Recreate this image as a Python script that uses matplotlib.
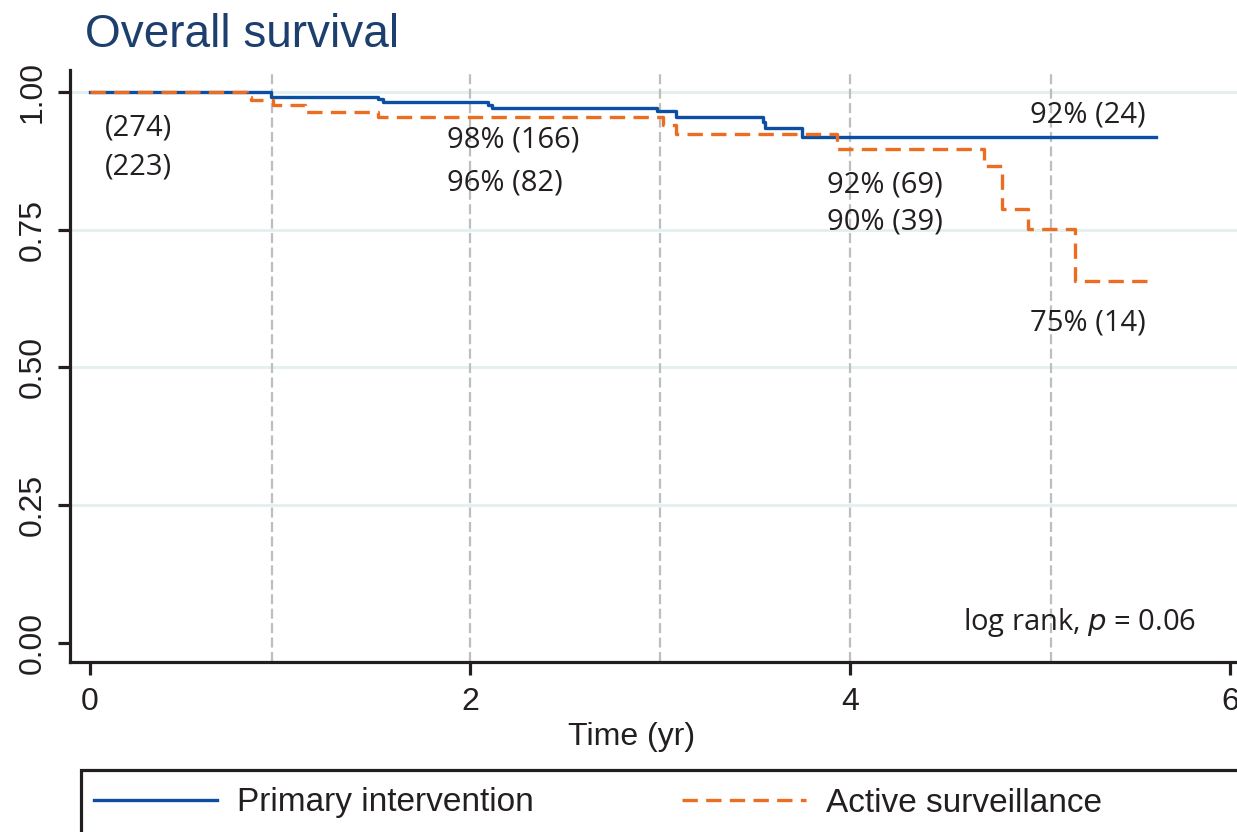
import matplotlib
matplotlib.use("Agg")
import matplotlib.pyplot as plt
from matplotlib.patches import Rectangle

# ---- data ----
pi_time = [0, 0.953, 1.516, 1.542, 2.095, 2.116, 2.984, 3.084, 3.542, 3.553, 3.747, 5.61]
pi_surv = [1.0, 0.991, 0.987, 0.982, 0.976, 0.971, 0.966, 0.955, 0.946, 0.935, 0.918, 0.918]

as_time = [0, 0.826, 0.847, 0.963, 1.13, 1.516, 3.016, 3.084, 3.932, 4.705, 4.80, 4.937, 5.184, 5.579]
as_surv = [1.0, 0.991, 0.985, 0.976, 0.964, 0.955, 0.940, 0.924, 0.897, 0.866, 0.788, 0.751, 0.657, 0.657]

landmarks = [0.96, 2.0, 3.0, 4.0, 5.06]
yticks = [0, 0.25, 0.5, 0.75, 1.0]
ytick_labels = ["0.00", "0.25", "0.50", "0.75", "1.00"]
xticks = [0, 2, 4, 6]

# annotation text, left x / centre y in data units
ann_text = ["(274)", "(223)", "98% (166)", "96% (82)", "92% (69)", "90% (39)", "92% (24)", "75% (14)"]
ann_x = [0.079, 0.079, 1.88, 1.88, 3.88, 3.88, 4.95, 4.95]
ann_y = [0.935, 0.864, 0.913, 0.835, 0.831, 0.764, 0.958, 0.581]

blue = "#0b4ea2"
orange = "#ea6d22"
ink = "#231f20"

plt.rcParams["font.family"] = ["Liberation Sans", "DejaVu Sans"]

W, H = 1237, 832
fig = plt.figure(figsize=(W / 100, H / 100), dpi=100)
ax = fig.add_axes([70 / W, 170 / H, 1179 / W, 592 / H])
ax.set_xlim(-0.105, 6.1)
ax.set_ylim(-0.0345, 1.0399)

for g in [0.25, 0.5, 0.75, 1.0]:
    ax.axhline(g, color="#e2f0f0", lw=2.0, zorder=0)
for lm in landmarks:
    ax.axvline(lm, color="#bcbfbf", lw=1.6, dashes=(4.5, 2), zorder=1)

l1, = ax.step(pi_time, pi_surv, where="post", color=blue, lw=2.4, zorder=3,
              label="Primary intervention")
l2, = ax.step(as_time, as_surv, where="post", color=orange, lw=2.4, zorder=4,
              dashes=(4.6, 2.5), label="Active surveillance")

for t, x, y in zip(ann_text, ann_x, ann_y):
    ax.text(x, y, t, ha="left", va="center", fontsize=21, color=ink,
            family=["Open Sans", "DejaVu Sans"], zorder=5)
ax.text(5.82, 0.038, r"log rank, $p$ = 0.06", ha="right", va="center", fontsize=21,
        color=ink, family=["Open Sans", "DejaVu Sans"])

for s in ["top", "right"]:
    ax.spines[s].set_visible(False)
for s in ["left", "bottom"]:
    ax.spines[s].set_linewidth(2.3)
    ax.spines[s].set_color(ink)

ax.set_xticks(xticks)
ax.set_yticks(yticks)
ax.set_yticklabels(ytick_labels, rotation=90, va="center")
ax.tick_params(axis="both", length=9, width=2.3, color=ink, labelcolor=ink, labelsize=23)
ax.tick_params(axis="y", pad=7)
ax.tick_params(axis="x", pad=9)
ax.set_xlabel("Time (yr)", fontsize=23, color=ink)
ax.xaxis.set_label_coords((632 - 70) / 1179, -0.102)

fig.text(85 / W, 1 - 47 / H, "Overall survival", fontsize=33, color="#1d3f6e",
         ha="left", va="baseline")

# legend box (runs off the bottom/right of the picture like the reference)
fig.patches.append(Rectangle((81 / W, -0.02), 1.05, (832 - 770) / H + 0.02,
                             transform=fig.transFigure, fill=False, lw=2.3,
                             edgecolor=ink, clip_on=False))
leg = fig.legend(handles=[l1, l2], loc="center left",
                 bbox_to_anchor=(94 / W, 1 - 803 / H), frameon=False,
                 ncol=2, fontsize=24, handlelength=3.7, handletextpad=0.6,
                 columnspacing=4.45, borderpad=0, borderaxespad=0)
for t in leg.get_texts():
    t.set_color(ink)

fig.savefig("out.png", dpi=100)
